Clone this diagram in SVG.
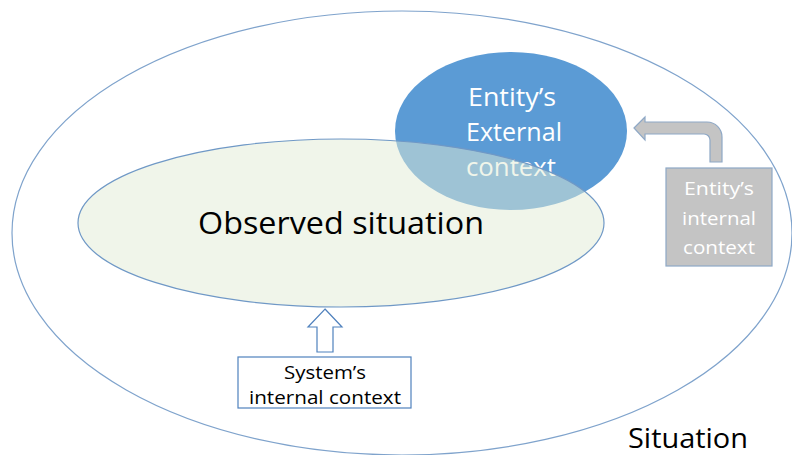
<svg xmlns="http://www.w3.org/2000/svg" width="792" height="455" viewBox="0 0 792 455">
<style>
.outline{fill:none;stroke:#7FA3CC;stroke-width:1.2}
.obs{fill:#E1EBD5;fill-opacity:0.5;stroke:#6F98C6;stroke-width:1.2}
.ext{fill:#5B9BD5}
.t{font-family:"Open Sans","Liberation Sans",sans-serif;text-anchor:middle}
.w{fill:#FFFFFF}
.k{fill:#000000}
.gray{fill:#C4C4C4;stroke:#8EA8C6;stroke-width:1.2}
.hollow{fill:#FFFFFF;stroke:#4F81BD;stroke-width:1.2}
</style>
<rect width="792" height="455" fill="#FFFFFF"/>
<g id="situation">
<ellipse class="outline" cx="402" cy="233" rx="390" ry="222"/>
<text class="t k" x="688" y="448" font-size="27" textLength="120" lengthAdjust="spacingAndGlyphs">Situation</text>
</g>
<g id="external-context">
<ellipse class="ext" cx="511" cy="131" rx="116" ry="79"/>
<text class="t w" font-size="25" x="512" y="106" textLength="88" lengthAdjust="spacingAndGlyphs">Entity’s</text>
<text class="t w" font-size="25" x="514" y="141" textLength="96" lengthAdjust="spacingAndGlyphs">External</text>
<text class="t w" font-size="25" x="511" y="176" textLength="90" lengthAdjust="spacingAndGlyphs">context</text>
</g>
<g id="observed-situation">
<ellipse class="obs" cx="341" cy="223" rx="263" ry="84"/>
<text class="t k" x="341" y="234" font-size="31" textLength="286" lengthAdjust="spacingAndGlyphs">Observed situation</text>
</g>
<g id="entity-internal-context">
<rect class="gray" x="666" y="168" width="106" height="98"/>
<text class="t w" font-size="19" x="719" y="195" textLength="70" lengthAdjust="spacingAndGlyphs">Entity’s</text>
<text class="t w" font-size="19" x="719" y="225" textLength="74" lengthAdjust="spacingAndGlyphs">internal</text>
<text class="t w" font-size="19" x="719" y="254" textLength="72" lengthAdjust="spacingAndGlyphs">context</text>
</g>
<g id="system-internal-context">
<rect class="hollow" x="238" y="357" width="173" height="51"/>
<text class="t k" font-size="19" x="325" y="379" textLength="82" lengthAdjust="spacingAndGlyphs">System’s</text>
<text class="t k" font-size="19" x="325" y="404" textLength="152" lengthAdjust="spacingAndGlyphs">internal context</text>
</g>
<g id="connectors">
<path class="gray" d="M634,128 L645,117 L645,122 L707,122 A15,15 0 0 1 722,137 L722,162 L710,162 L710,140 A6,6 0 0 0 704,134 L645,134 L645,140 Z"/>
<path class="hollow" d="M325,309 L342,327 L333,327 L333,352 L317,352 L317,327 L308,327 Z"/>
</g>
</svg>
